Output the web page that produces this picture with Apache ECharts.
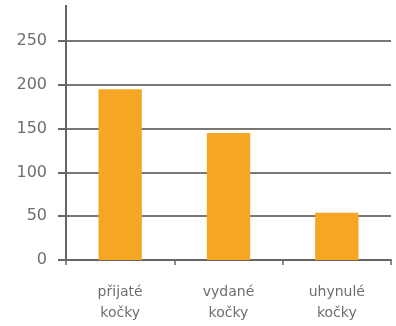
<!DOCTYPE html>
<html>
<head>
<meta charset="utf-8">
<script src="https://cdn.jsdelivr.net/npm/echarts@6/dist/echarts.min.js"></script>
<style>
  html, body { margin: 0; padding: 0; background: #ffffff; }
  #chart { width: 396px; height: 326px; }
</style>
</head>
<body>
<div id="chart"></div>
<script>
// Cat counts per group
const categories = ['přijaté\nkočky', 'vydané\nkočky', 'uhynulé\nkočky'];
const counts = [195, 145, 54];
const yTicks = [0, 50, 100, 150, 200, 250];

const chart = echarts.init(document.getElementById('chart'), null, { renderer: 'canvas' });

const textColor = '#6e6e6e';
const fontFamily = '"DejaVu Sans", sans-serif';

chart.setOption({
  animation: false,
  grid: { left: 66, right: 5, top: 41, bottom: 66 },
  xAxis: {
    type: 'category',
    data: categories,
    axisLine: { lineStyle: { color: '#666', width: 2 } },
    axisTick: { show: true, alignWithLabel: false, length: 5, lineStyle: { color: '#666', width: 1.5 } },
    axisLabel: {
      color: textColor, fontSize: 14, fontFamily: fontFamily,
      lineHeight: 21, margin: 22
    }
  },
  yAxis: {
    type: 'value',
    min: yTicks[0],
    max: yTicks[yTicks.length - 1],
    interval: 50,
    axisLine: { show: true, lineStyle: { color: '#666', width: 2 } },
    axisTick: { show: true, length: 8, lineStyle: { color: '#666', width: 2 } },
    axisLabel: { color: textColor, fontSize: 16, fontFamily: fontFamily, margin: 19 },
    splitLine: { show: true, lineStyle: { color: '#777', width: 2 } }
  },
  series: [{
    type: 'bar',
    data: counts,
    barWidth: '40%',
    itemStyle: { color: '#F5A623' }
  }],
  graphic: [{
    // vertical axis continues a little above the top grid line
    type: 'line',
    shape: { x1: 66, y1: 5, x2: 66, y2: 41 },
    style: { stroke: '#666', lineWidth: 2 }
  }]
});
</script>
</body>
</html>
